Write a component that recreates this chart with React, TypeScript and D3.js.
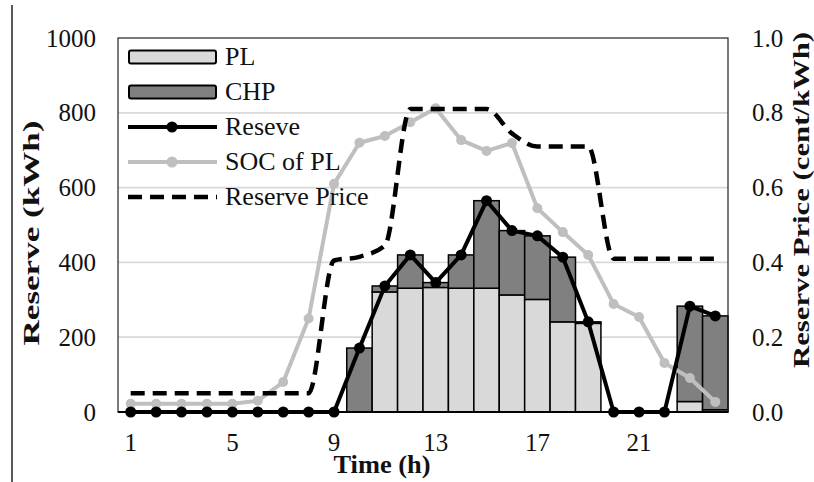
import React from "react";
import * as d3 from "d3";

// Hourly reserve schedule (kWh) and reserve price (cent/kWh)
const hours: number[] = d3.range(1, 25);
const plReserve: number[] = [0, 0, 0, 0, 0, 0, 0, 0, 0, 0, 321, 331, 333, 331, 331, 313, 301, 241, 237, 0, 0, 0, 28, 6];
const chpReserve: number[] = [0, 0, 0, 0, 0, 0, 0, 0, 0, 171, 16, 89, 13, 89, 234, 172, 170, 173, 4, 0, 0, 0, 255, 251];
const totalReserve: number[] = [0, 0, 0, 0, 0, 0, 0, 0, 0, 171, 337, 420, 346, 420, 565, 485, 471, 414, 241, 0, 0, 0, 283, 257];
const socPL: number[] = [22, 22, 22, 22, 22, 30, 80, 250, 610, 720, 738, 775, 812, 727, 698, 719, 545, 481, 420, 289, 254, 131, 91, 27];
const reservePrice: number[] = [0.05, 0.05, 0.05, 0.05, 0.05, 0.05, 0.05, 0.05, 0.405, 0.415, 0.445, 0.81, 0.81, 0.81, 0.81, 0.745, 0.71, 0.71, 0.71, 0.41, 0.41, 0.41, 0.41, 0.41];

const leftTicks: number[] = [0, 200, 400, 600, 800, 1000];
const rightTicks: number[] = [0, 0.2, 0.4, 0.6, 0.8, 1.0];
const xTickHours: number[] = [1, 5, 9, 13, 17, 21];

const W = 814;
const H = 482;
const plot = { left: 118, right: 728, top: 38, bottom: 412 };
const FONT = '"Liberation Serif", "Times New Roman", serif';

const PL_FILL = "#d9d9d9";
const CHP_FILL = "#808080";
const SOC_COLOR = "#bfbfbf";

export default function App() {
  const x = d3
    .scaleBand<number>()
    .domain(hours)
    .range([plot.left, plot.right])
    .padding(0);
  const yL = d3.scaleLinear().domain([0, 1000]).range([plot.bottom, plot.top]);
  const yR = d3.scaleLinear().domain([0, 1]).range([plot.bottom, plot.top]);
  const cx = (h: number) => (x(h) as number) + x.bandwidth() / 2;

  const reserveLine = d3
    .line<number>()
    .x((_, i) => cx(hours[i]))
    .y((d) => yL(d));
  const priceLine = d3
    .line<number>()
    .x((_, i) => cx(hours[i]))
    .y((d) => yR(d))
    .curve(d3.curveMonotoneX);

  const legendItems = [
    { label: "PL", kind: "bar", fill: PL_FILL },
    { label: "CHP", kind: "bar", fill: CHP_FILL },
    { label: "Reseve", kind: "marker", color: "#000" },
    { label: "SOC of PL", kind: "marker", color: SOC_COLOR },
    { label: "Reserve Price", kind: "dash", color: "#000" },
  ];

  return (
    <svg
      width={W}
      height={H}
      viewBox={`0 0 ${W} ${H}`}
      style={{ position: "absolute", left: 0, top: 0, background: "#fff", fontFamily: FONT }}
    >
      <rect x={0} y={0} width={W} height={H} fill="#fff" />
      {/* frame rule on the far left */}
      <line x1={12} x2={12} y1={5} y2={H} stroke="#222" strokeWidth={1.5} />

      {/* horizontal gridlines */}
      {leftTicks
        .filter((t) => t > 0 && t < 1000)
        .map((t) => (
          <line
            key={"g" + t}
            x1={plot.left}
            x2={plot.right}
            y1={yL(t)}
            y2={yL(t)}
            stroke="#d9d9d9"
            strokeWidth={1.8}
          />
        ))}

      {/* stacked bars: PL at the bottom, CHP on top */}
      {hours.map((h, i) => {
        const pl = plReserve[i];
        const chp = chpReserve[i];
        const bx = x(h) as number;
        const bw = x.bandwidth();
        return (
          <g key={"b" + h}>
            {pl > 0 && (
              <rect
                x={bx}
                y={yL(pl)}
                width={bw}
                height={yL(0) - yL(pl)}
                fill={PL_FILL}
                stroke="#000"
                strokeWidth={1.5}
              />
            )}
            {chp > 0 && (
              <rect
                x={bx}
                y={yL(pl + chp)}
                width={bw}
                height={yL(pl) - yL(pl + chp)}
                fill={CHP_FILL}
                stroke="#000"
                strokeWidth={1.5}
              />
            )}
          </g>
        );
      })}

      {/* SOC of PL */}
      <path d={reserveLine(socPL) || ""} fill="none" stroke={SOC_COLOR} strokeWidth={4} strokeLinejoin="round" />
      {socPL.map((v, i) => (
        <circle key={"s" + i} cx={cx(hours[i])} cy={yL(v)} r={5} fill={SOC_COLOR} />
      ))}

      {/* total reserve */}
      <path d={reserveLine(totalReserve) || ""} fill="none" stroke="#000" strokeWidth={4} strokeLinejoin="round" />
      {totalReserve.map((v, i) => (
        <circle key={"r" + i} cx={cx(hours[i])} cy={yL(v)} r={5.5} fill="#000" />
      ))}

      {/* reserve price (right axis) */}
      <path
        d={priceLine(reservePrice) || ""}
        fill="none"
        stroke="#000"
        strokeWidth={4.5}
        strokeDasharray="14 8"
      />

      {/* plot frame */}
      <rect
        x={plot.left}
        y={plot.top}
        width={plot.right - plot.left}
        height={plot.bottom - plot.top}
        fill="none"
        stroke="#222"
        strokeWidth={1.2}
      />
      <line x1={plot.left} x2={plot.right} y1={plot.bottom} y2={plot.bottom} stroke="#000" strokeWidth={1.8} />

      {/* legend */}
      {legendItems.map((it, i) => {
        const cy = 57 + i * 35;
        const baseline = 65 + i * 35;
        return (
          <g key={"l" + i}>
            {it.kind === "bar" && (
              <rect x={129} y={cy - 6.5} width={87} height={13} rx={2} fill={it.fill} stroke="#000" strokeWidth={2} />
            )}
            {it.kind === "marker" && (
              <g>
                <line x1={128} x2={217} y1={cy} y2={cy} stroke={it.color} strokeWidth={4} />
                <circle cx={172} cy={cy} r={5.5} fill={it.color} />
              </g>
            )}
            {it.kind === "dash" && (
              <line x1={128} x2={217} y1={cy} y2={cy} stroke={it.color} strokeWidth={4.5} strokeDasharray="14 8" />
            )}
            <text x={225} y={baseline} fontSize={26} fill="#111">
              {it.label}
            </text>
          </g>
        );
      })}

      {/* left axis labels */}
      {leftTicks.map((t) => (
        <text key={"lt" + t} x={96} y={yL(t)} dy="0.34em" textAnchor="end" fontSize={25} fill="#111">
          {t}
        </text>
      ))}
      {/* right axis labels */}
      {rightTicks.map((t) => (
        <text key={"rt" + t} x={752} y={yR(t)} dy="0.34em" textAnchor="start" fontSize={25} fill="#111">
          {d3.format(".1f")(t)}
        </text>
      ))}
      {/* x axis labels */}
      {xTickHours.map((h) => (
        <text key={"xt" + h} x={cx(h)} y={451} textAnchor="middle" fontSize={25} fill="#111">
          {h}
        </text>
      ))}

      {/* axis titles */}
      <text
        x={382}
        y={473}
        textAnchor="middle"
        fontSize={25}
        fontWeight="bold"
        textLength={97}
        lengthAdjust="spacingAndGlyphs"
        fill="#111"
      >
        Time (h)
      </text>
      <text
        transform="translate(39,233) rotate(-90)"
        textAnchor="middle"
        fontSize={24}
        fontWeight="bold"
        textLength={225}
        lengthAdjust="spacingAndGlyphs"
        fill="#111"
      >
        Reserve (kWh)
      </text>
      <text
        transform="translate(809,200) rotate(-90)"
        textAnchor="middle"
        fontSize={23}
        fontWeight="bold"
        textLength={336}
        lengthAdjust="spacingAndGlyphs"
        fill="#111"
      >
        Reserve Price (cent/kWh)
      </text>
    </svg>
  );
}
